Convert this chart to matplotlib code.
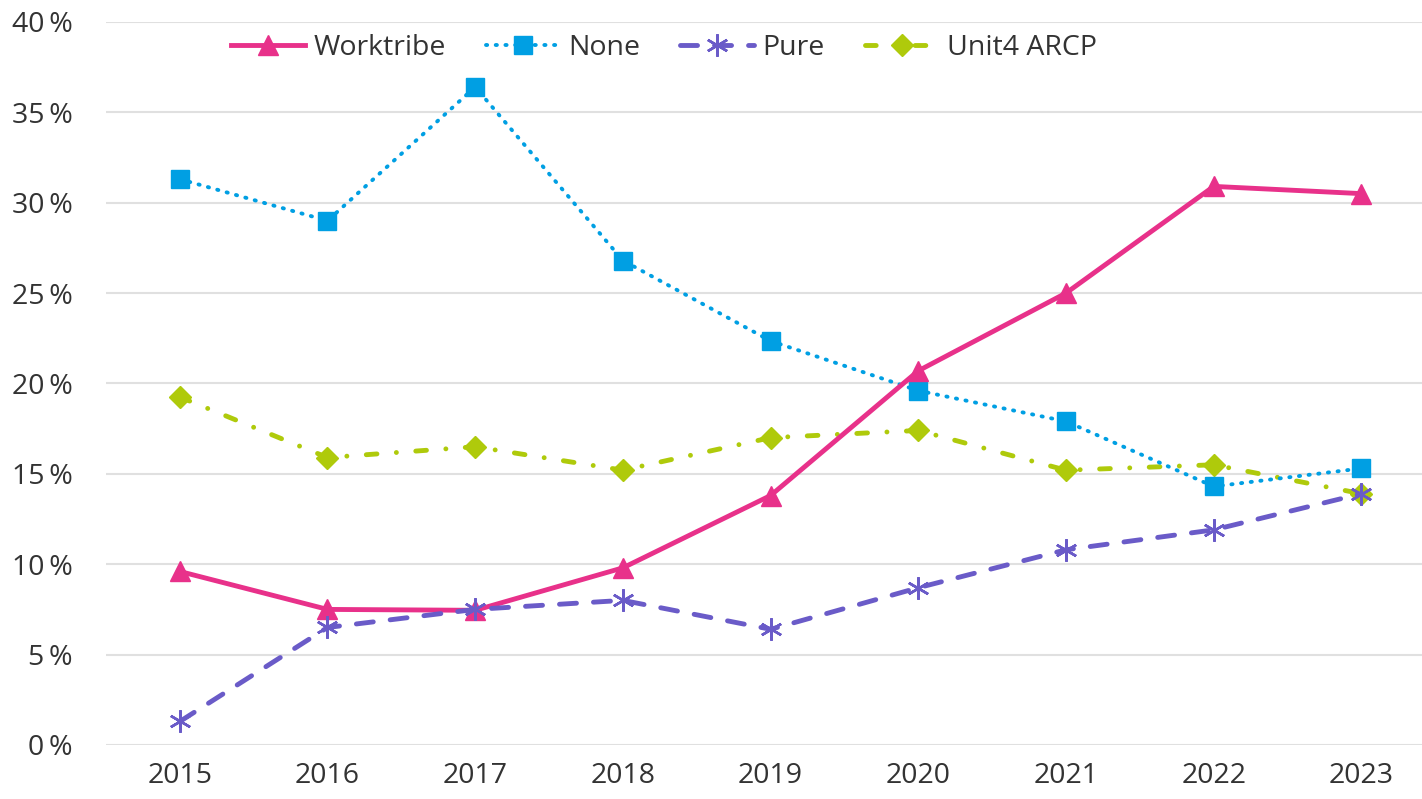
import numpy as np
from matplotlib import pyplot as plt

plt.rcParams['font.family'] = ['Open Sans', 'DejaVu Sans']

years = ['2015', '2016', '2017', '2018', '2019', '2020', '2021', '2022', '2023']
worktribe = [9.6, 7.5, 7.45, 9.8, 13.8, 20.7, 25.0, 30.9, 30.5]
none_sys = [31.3, 29.0, 36.4, 26.8, 22.35, 19.6, 17.9, 14.3, 15.3]
pure = [1.3, 6.5, 7.5, 8.0, 6.4, 8.7, 10.8, 11.9, 13.9]
unit4 = [19.25, 15.9, 16.5, 15.2, 17.0, 17.4, 15.2, 15.5, 13.9]
yticks = [0, 5, 10, 15, 20, 25, 30, 35, 40]

fig = plt.figure(figsize=(14.22, 7.99), dpi=100)
ax = fig.add_axes([0.0745, 0.0676, 0.9255, 0.905])
x = np.arange(len(years))

ax.plot(x, worktribe, color='#E8318A', lw=3.5, marker='^', ms=15,
        label='Worktribe', clip_on=False, zorder=5)
ax.plot(x, none_sys, color='#009FE3', lw=2.8, ls=(0, (0.3, 2.2)),
        dash_capstyle='round', marker='s', ms=13, label='None', clip_on=False, zorder=4)
ax.plot(x, pure, color='#6A5BC8', lw=3.5, ls=(0, (3.5, 3.5)), dash_capstyle='round',
        marker=(6, 2, 0), ms=16, mew=1.8, label='Pure', clip_on=False, zorder=6)
ax.plot(x, unit4, color='#AFCA0B', lw=3.5, ls=(0, (2.2, 4, 0.01, 4)),
        dash_capstyle='round', marker='D', ms=11, label='Unit4 ARCP',
        clip_on=False, zorder=3)

ax.set_xlim(-0.5, 8.41)
ax.set_ylim(0, 40)
ax.set_xticks(x)
ax.set_xticklabels(years)
ax.set_yticks(yticks)
ax.set_yticklabels([f'{v}\u2009%' for v in yticks])
ax.tick_params(length=0, labelsize=20.5, colors='#333333')
ax.tick_params(axis='x', pad=12)
ax.tick_params(axis='y', pad=24)
ax.grid(axis='y', color='#E0E0E0', lw=1.5)
ax.set_axisbelow(True)
for s in ax.spines.values():
    s.set_visible(False)

ax.legend(loc='center', bbox_to_anchor=(0.467, 0.940), bbox_transform=fig.transFigure,
          ncol=4, frameon=False, fontsize=20.5, handlelength=2.6,
          columnspacing=1.4, handletextpad=0.3, labelcolor='#333333')

fig.savefig('out.png', dpi=100)
